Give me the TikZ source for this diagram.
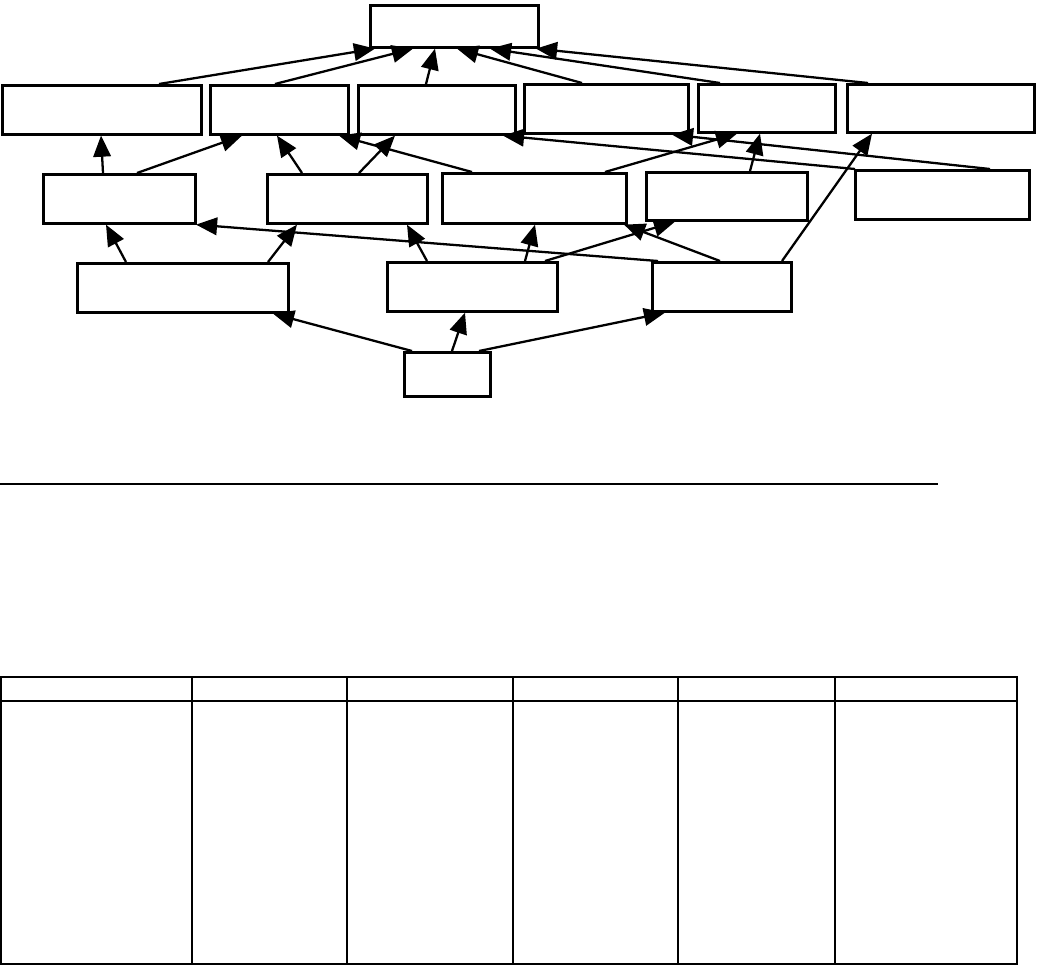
\documentclass[tikz,border=0pt]{standalone}
\usepackage{tikz}
\usetikzlibrary{arrows.meta, positioning}

\begin{document}
\begin{tikzpicture}[
    x=0.02cm, y=-0.02cm,
    box/.style={draw, line width=1.5pt, anchor=north west, inner sep=0pt, minimum height=0.98cm},
    arr/.style={-{Triangle[length=12pt, width=10pt]}, line width=1.3pt},
    rule/.style={line width=0.6pt}
]
\useasboundingbox (0,0) rectangle (1037,965);

% top
\node[box, minimum width=3.36cm, minimum height=0.84cm] (top) at (369,4) {};

% first row
\node[box, minimum width=3.98cm] (a1) at (1,84) {};
\node[box, minimum width=2.76cm] (a2) at (209,84) {};
\node[box, minimum width=3.14cm] (a3) at (357,84) {};
\node[box, minimum width=3.28cm] (a4) at (523,83) {};
\node[box, minimum width=2.74cm, minimum height=0.96cm] (a5) at (697,83) {};
\node[box, minimum width=3.74cm, minimum height=0.96cm] (a6) at (846,83) {};

% second row
\node[box, minimum width=3.04cm] (b1) at (42,173) {};
\node[box, minimum width=3.20cm] (b2) at (266,173) {};
\node[box, minimum width=3.68cm, minimum height=1.0cm] (b3) at (441,172) {};
\node[box, minimum width=3.22cm, minimum height=0.96cm] (b4) at (645,171) {};
\node[box, minimum width=3.48cm] (b5) at (854,169) {};

% third row
\node[box, minimum width=4.22cm] (c1) at (76,262) {};
\node[box, minimum width=3.40cm] (c2) at (386,261) {};
\node[box, minimum width=2.78cm] (c3) at (651,261) {};

% bottom
\node[box, minimum width=1.72cm, minimum height=0.88cm] (d) at (403,351) {};

% into top
\draw[arr] (a1.north -| 159,0) -- (top.south -| 375,0);
\draw[arr] (a2.north -| 275,0) -- (top.south -| 413,0);
\draw[arr] (a3.north -| 426,0) -- (top.south -| 435,0);
\draw[arr] (a4.north -| 582,0) -- (top.south -| 457,0);
\draw[arr] (a5.north -| 720,0) -- (top.south -| 490,0);
\draw[arr] (a6.north -| 868,0) -- (top.south -| 536,0);

% second row to first row
\draw[arr] (b1.north -| 103,0) -- (a1.south -| 101,0);
\draw[arr] (b1.north -| 137,0) -- (a2.south -| 242,0);
\draw[arr] (b2.north -| 302,0) -- (a2.south -| 277,0);
\draw[arr] (b2.north -| 359,0) -- (a3.south -| 395,0);
\draw[arr] (b3.north -| 472,0) -- (a2.south -| 339,0);
\draw[arr] (b5.north -| 855,0) -- (a3.south -| 503,0);
\draw[arr] (b5.north -| 990,0) -- (a4.south -| 672,0);
\draw[arr] (b3.north -| 605,0) -- (a5.south -| 737,0);
\draw[arr] (b4.north -| 750,0) -- (a5.south -| 760,0);
\draw[arr] (c3.north -| 782,0) -- (a6.south -| 872,0);

% third row to second row
\draw[arr] (c1.north -| 126,0) -- (b1.south -| 106,0);
\draw[arr] (c1.north -| 268,0) -- (b2.south -| 297,0);
\draw[arr] (c2.north -| 427,0) -- (b2.south -| 407,0);
\draw[arr] (c2.north -| 525,0) -- (b3.south -| 535,0);
\draw[arr] (c2.north -| 545,0) -- (b4.south -| 675,0);
\draw[arr] (c3.north -| 720,0) -- (b3.south -| 624,0);
\draw[arr] (c3.north -| 658,0) -- (b1.south -| 196,0);

% bottom to third row
\draw[arr] (d.north -| 412,0) -- (c1.south -| 273,0);
\draw[arr] (d.north -| 452,0) -- (c2.south -| 465,0);
\draw[arr] (d.north -| 479,0) -- (c3.south -| 665,0);

% separator
\draw[line width=1pt] (0,484) -- (938,484);

% table
\draw[rule] (1,677) rectangle (1017,964);
\draw[rule] (1,701) -- (1017,701);
\foreach \cx in {192,347,513,678,835}
  \draw[rule] (\cx,677) -- (\cx,964);

\end{tikzpicture}
\end{document}
